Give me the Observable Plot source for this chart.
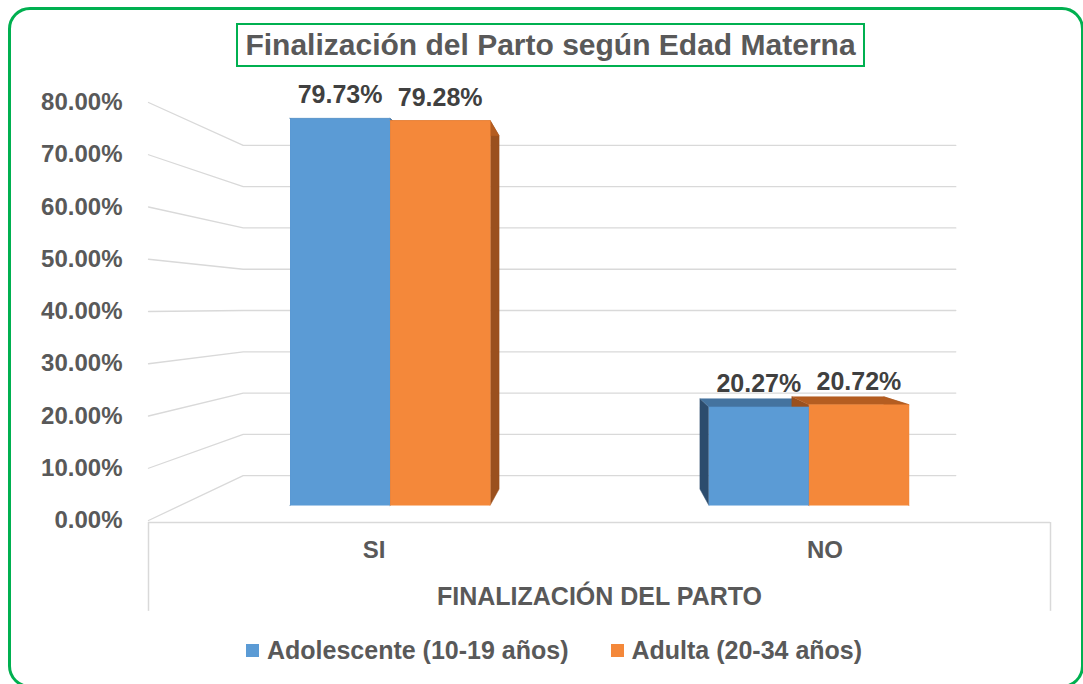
<!DOCTYPE html>
<html>
<head>
<meta charset="utf-8">
<script src="https://cdn.jsdelivr.net/npm/d3@7"></script>
<script src="https://cdn.jsdelivr.net/npm/@observablehq/plot@0.6"></script>
<style>
  html, body { margin: 0; padding: 0; background: #fff; overflow: hidden; }
  #wrap { position: relative; width: 1083px; height: 684px; overflow: hidden;
          font-family: "Liberation Sans", Arial, sans-serif; }
  #frame { position: absolute; left: 8px; top: 7px; width: 1076px; height: 681px;
           box-sizing: border-box; border: 3px solid #00B050; border-radius: 22px; }
  #title { position: absolute; left: 236px; top: 23px; width: 629px; height: 44px;
           box-sizing: border-box; border: 2px solid #00B050; display: flex;
           align-items: center; justify-content: center; font-size: 30px;
           font-weight: bold; color: #595959; white-space: nowrap; }
  #chart { position: absolute; left: 0; top: 0; }
  #legend { position: absolute; left: 246px; top: 636px; display: flex; align-items: center;
            font-size: 25px; font-weight: bold; color: #595959; white-space: nowrap; }
  .item { display: flex; align-items: center; }
  .item + .item { margin-left: 42px; }
  .sw { width: 13px; height: 13px; margin-right: 8px; }
</style>
</head>
<body>
<div id="wrap">
  <div id="frame"></div>
  <div id="title"></div>
  <div id="chart"></div>
  <div id="legend"></div>
</div>
<script>
// ---------------- data ----------------
const titleText = "Finalización del Parto según Edad Materna";
const xAxisTitle = "FINALIZACIÓN DEL PARTO";
const categories = ["SI", "NO"];
const seriesNames = ["Adolescente (10-19 años)", "Adulta (20-34 años)"];
const adolescente = [79.73, 20.27];
const adulta = [79.28, 20.72];
const yTicks = [0, 10, 20, 30, 40, 50, 60, 70, 80];

// ---------------- styles ----------------
const frontColors = ["#5B9BD5", "#F4883A"];
const sideColors  = ["#2C4C6D", "#9A501E"];
const topColors   = ["#44739F", "#B45D21"];
const gridColor = "#D9D9D9";
const textColor = "#595959";
const labelColor = "#404040";

// ---------------- 3D projection (value space) ----------------
const HORIZON = 40.9;      // value at eye level
const SHRINK = 0.21;       // perspective shrink per unit depth
const WALL_Z = 1;          // back wall depth
const BAR_FRONT_Z = 0.34;
const BAR_BACK_Z = 0.70;
const BAR_W = 0.1195;      // width of one bar in x-domain units
const BOX_BOTTOM = -17;    // bottom of the category-axis box (value units)

function proj(u, t, z) {
  const f = 1 - SHRINK * z;
  return { x: 0.5 + (u - 0.5) * f, y: HORIZON + (t - HORIZON) * f };
}

document.getElementById("title").textContent = titleText;

const values = [adolescente, adulta];
const nCat = categories.length;

// bars
const bars = [];
categories.forEach((c, i) => {
  const center = (i + 0.5) / nCat;
  values.forEach((vals, j) => {
    const u0 = center - BAR_W + j * BAR_W;
    bars.push({ cat: c, s: j, u0, u1: u0 + BAR_W, v: vals[i] });
  });
});

const backFaces = [];
const frontFaces = [];
bars.forEach((b, k) => {
  const { u0, u1, v, s } = b;
  const zf = BAR_FRONT_Z, zb = BAR_BACK_Z;
  const addFace = (arr, id, color, pts) =>
    pts.forEach(([u, t, z]) => arr.push({ id, color, ...proj(u, t, z) }));
  addFace(backFaces, `L${k}`, sideColors[s], [[u0,0,zf],[u0,0,zb],[u0,v,zb],[u0,v,zf]]);
  addFace(backFaces, `R${k}`, sideColors[s], [[u1,0,zf],[u1,0,zb],[u1,v,zb],[u1,v,zf]]);
  addFace(backFaces, `T${k}`, topColors[s], [[u0,v,zf],[u1,v,zf],[u1,v,zb],[u0,v,zb]]);
  addFace(frontFaces, `F${k}`, frontColors[s], [[u0,0,zf],[u1,0,zf],[u1,v,zf],[u0,v,zf]]);
});

// gridlines: front label edge -> back wall left -> back wall right
const grid = [];
yTicks.forEach(t => {
  [[0, t, 0], [0, t, WALL_Z], [1, t, WALL_Z]].forEach(([u, tt, z]) =>
    grid.push({ tick: t, ...proj(u, tt, z) }));
});

const labels = bars.map(b => ({ ...proj((b.u0 + b.u1) / 2, b.v, BAR_FRONT_Z), text: b.v.toFixed(2) + "%" }));

const chart = Plot.plot({
  width: 1083,
  height: 615,
  marginLeft: 148,
  marginRight: 33,
  marginTop: 102,
  marginBottom: 95,
  x: { domain: [0, 1], axis: null },
  y: { domain: [0, 80], axis: null },
  style: { fontFamily: "Liberation Sans, Arial, sans-serif", fontSize: "24px",
           fontWeight: "bold", color: textColor, background: "transparent", overflow: "visible" },
  marks: [
    Plot.line(grid, { x: "x", y: "y", z: "tick", stroke: gridColor, strokeWidth: 1.3 }),
    Plot.ruleY([0], { x1: 0, x2: 1, stroke: gridColor, strokeWidth: 1.5, dy: 2 }),
    Plot.ruleX([0, 1], { y1: 0, y2: BOX_BOTTOM, stroke: gridColor, strokeWidth: 1.5, dy: 2 }),
    Plot.line(backFaces, { x: "x", y: "y", z: "id", fill: "color", stroke: "color", strokeWidth: 0.5 }),
    Plot.line(frontFaces, { x: "x", y: "y", z: "id", fill: "color", stroke: "color", strokeWidth: 0.5 }),
    Plot.axisY(yTicks, { label: null, tickSize: 0, tickPadding: 26, tickFormat: d => d.toFixed(2) + "%",
                         fontSize: 24, fontWeight: "bold", fill: textColor }),
    Plot.text(labels, { x: "x", y: "y", text: "text", dy: -23, fontSize: 25,
                        fontWeight: "bold", fill: labelColor }),
    Plot.text(categories, { x: (d, i) => (i + 0.5) / nCat, y: () => 0, text: d => d, dy: 30,
                            fontSize: 24, fontWeight: "bold", fill: textColor }),
    Plot.text([xAxisTitle], { x: () => 0.5, y: () => 0, text: d => d, dy: 76,
                              fontSize: 25, fontWeight: "bold", fill: textColor })
  ]
});
document.getElementById("chart").appendChild(chart);

// legend
const legend = document.getElementById("legend");
seriesNames.forEach((name, j) => {
  const item = document.createElement("div");
  item.className = "item";
  const sw = document.createElement("div");
  sw.className = "sw";
  sw.style.background = frontColors[j];
  const tx = document.createElement("span");
  tx.textContent = name;
  item.appendChild(sw);
  item.appendChild(tx);
  legend.appendChild(item);
});
</script>
</body>
</html>
